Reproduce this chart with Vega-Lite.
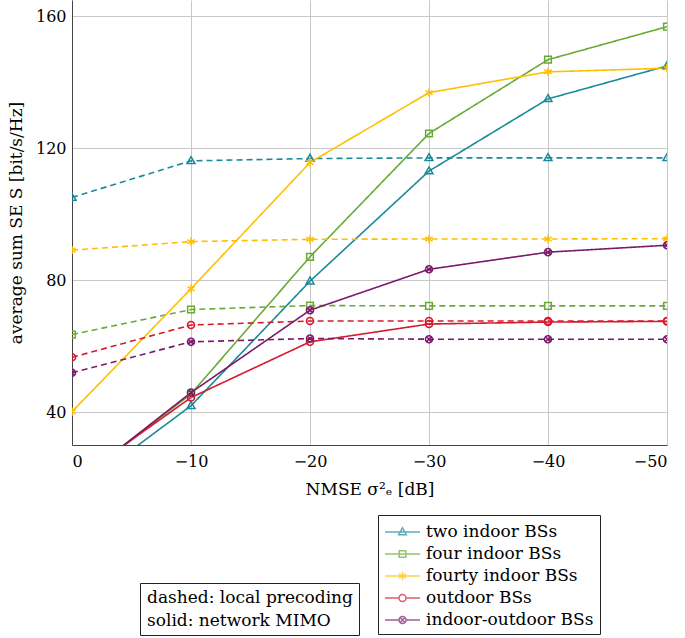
{
  "$schema": "https://vega.github.io/schema/vega-lite/v6.json",
  "width": 595,
  "height": 445,
  "autosize": "none",
  "padding": {"left": 72, "top": 0, "right": 18, "bottom": 193},
  "config": {
    "font": "DejaVu Serif",
    "view": {"stroke": null},
    "axis": {"labelFontSize": 16, "titleFontSize": 17, "labelColor": "black", "titleColor": "black", "titleFontWeight": "normal", "gridColor": "#c8c8c8", "domainColor": "#444", "tickSize": 0, "labelFont": "DejaVu Serif", "titleFont": "DejaVu Serif"},
    "legend": {"labelFont": "DejaVu Serif", "labelFontSize": 17, "labelColor": "black", "strokeColor": "#222", "fillColor": "white", "padding": 6, "labelLimit": 400}
  },
  "data": {"values": [
    {"x": 0, "v": 105.1, "series": "two indoor BSs", "scheme": "local precoding"},
    {"x": -10, "v": 116.2, "series": "two indoor BSs", "scheme": "local precoding"},
    {"x": -20, "v": 116.9, "series": "two indoor BSs", "scheme": "local precoding"},
    {"x": -30, "v": 117.1, "series": "two indoor BSs", "scheme": "local precoding"},
    {"x": -40, "v": 117.1, "series": "two indoor BSs", "scheme": "local precoding"},
    {"x": -50, "v": 117.1, "series": "two indoor BSs", "scheme": "local precoding"},
    {"x": 0, "v": 15, "series": "two indoor BSs", "scheme": "network MIMO"},
    {"x": -10, "v": 41.9, "series": "two indoor BSs", "scheme": "network MIMO"},
    {"x": -20, "v": 79.7, "series": "two indoor BSs", "scheme": "network MIMO"},
    {"x": -30, "v": 113.1, "series": "two indoor BSs", "scheme": "network MIMO"},
    {"x": -40, "v": 135, "series": "two indoor BSs", "scheme": "network MIMO"},
    {"x": -50, "v": 145, "series": "two indoor BSs", "scheme": "network MIMO"},
    {"x": 0, "v": 63.5, "series": "four indoor BSs", "scheme": "local precoding"},
    {"x": -10, "v": 71.1, "series": "four indoor BSs", "scheme": "local precoding"},
    {"x": -20, "v": 72.3, "series": "four indoor BSs", "scheme": "local precoding"},
    {"x": -30, "v": 72.2, "series": "four indoor BSs", "scheme": "local precoding"},
    {"x": -40, "v": 72.2, "series": "four indoor BSs", "scheme": "local precoding"},
    {"x": -50, "v": 72.2, "series": "four indoor BSs", "scheme": "local precoding"},
    {"x": 0, "v": 17.5, "series": "four indoor BSs", "scheme": "network MIMO"},
    {"x": -10, "v": 45.5, "series": "four indoor BSs", "scheme": "network MIMO"},
    {"x": -20, "v": 87.1, "series": "four indoor BSs", "scheme": "network MIMO"},
    {"x": -30, "v": 124.5, "series": "four indoor BSs", "scheme": "network MIMO"},
    {"x": -40, "v": 146.9, "series": "four indoor BSs", "scheme": "network MIMO"},
    {"x": -50, "v": 156.9, "series": "four indoor BSs", "scheme": "network MIMO"},
    {"x": 0, "v": 89.1, "series": "fourty indoor BSs", "scheme": "local precoding"},
    {"x": -10, "v": 91.7, "series": "fourty indoor BSs", "scheme": "local precoding"},
    {"x": -20, "v": 92.4, "series": "fourty indoor BSs", "scheme": "local precoding"},
    {"x": -30, "v": 92.5, "series": "fourty indoor BSs", "scheme": "local precoding"},
    {"x": -40, "v": 92.5, "series": "fourty indoor BSs", "scheme": "local precoding"},
    {"x": -50, "v": 92.6, "series": "fourty indoor BSs", "scheme": "local precoding"},
    {"x": 0, "v": 40.1, "series": "fourty indoor BSs", "scheme": "network MIMO"},
    {"x": -10, "v": 77.4, "series": "fourty indoor BSs", "scheme": "network MIMO"},
    {"x": -20, "v": 115.7, "series": "fourty indoor BSs", "scheme": "network MIMO"},
    {"x": -30, "v": 136.9, "series": "fourty indoor BSs", "scheme": "network MIMO"},
    {"x": -40, "v": 143.2, "series": "fourty indoor BSs", "scheme": "network MIMO"},
    {"x": -50, "v": 144.3, "series": "fourty indoor BSs", "scheme": "network MIMO"},
    {"x": 0, "v": 56.6, "series": "outdoor BSs", "scheme": "local precoding"},
    {"x": -10, "v": 66.4, "series": "outdoor BSs", "scheme": "local precoding"},
    {"x": -20, "v": 67.6, "series": "outdoor BSs", "scheme": "local precoding"},
    {"x": -30, "v": 67.6, "series": "outdoor BSs", "scheme": "local precoding"},
    {"x": -40, "v": 67.6, "series": "outdoor BSs", "scheme": "local precoding"},
    {"x": -50, "v": 67.6, "series": "outdoor BSs", "scheme": "local precoding"},
    {"x": 0, "v": 18.7, "series": "outdoor BSs", "scheme": "network MIMO"},
    {"x": -10, "v": 44.4, "series": "outdoor BSs", "scheme": "network MIMO"},
    {"x": -20, "v": 61.3, "series": "outdoor BSs", "scheme": "network MIMO"},
    {"x": -30, "v": 66.7, "series": "outdoor BSs", "scheme": "network MIMO"},
    {"x": -40, "v": 67.3, "series": "outdoor BSs", "scheme": "network MIMO"},
    {"x": -50, "v": 67.5, "series": "outdoor BSs", "scheme": "network MIMO"},
    {"x": 0, "v": 51.9, "series": "indoor-outdoor BSs", "scheme": "local precoding"},
    {"x": -10, "v": 61.3, "series": "indoor-outdoor BSs", "scheme": "local precoding"},
    {"x": -20, "v": 62.3, "series": "indoor-outdoor BSs", "scheme": "local precoding"},
    {"x": -30, "v": 62.1, "series": "indoor-outdoor BSs", "scheme": "local precoding"},
    {"x": -40, "v": 62.1, "series": "indoor-outdoor BSs", "scheme": "local precoding"},
    {"x": -50, "v": 62.1, "series": "indoor-outdoor BSs", "scheme": "local precoding"},
    {"x": 0, "v": 17.7, "series": "indoor-outdoor BSs", "scheme": "network MIMO"},
    {"x": -10, "v": 45.9, "series": "indoor-outdoor BSs", "scheme": "network MIMO"},
    {"x": -20, "v": 70.9, "series": "indoor-outdoor BSs", "scheme": "network MIMO"},
    {"x": -30, "v": 83.3, "series": "indoor-outdoor BSs", "scheme": "network MIMO"},
    {"x": -40, "v": 88.5, "series": "indoor-outdoor BSs", "scheme": "network MIMO"},
    {"x": -50, "v": 90.6, "series": "indoor-outdoor BSs", "scheme": "network MIMO"}
  ]},
  "encoding": {
    "x": {"field": "x", "type": "quantitative", "scale": {"domain": [0, -50], "nice": false},
      "axis": {"values": [0, -10, -20, -30, -40, -50], "title": "NMSE σ²ₑ [dB]", "labelPadding": 8, "titlePadding": 12}},
    "y": {"field": "v", "type": "quantitative", "scale": {"domain": [30, 165], "nice": false, "zero": false},
      "axis": {"values": [40, 80, 120, 160], "title": "average sum SE S [bit/s/Hz]", "labelPadding": 6, "titlePadding": 10}},
    "color": {"field": "series", "type": "nominal",
      "scale": {"domain": ["two indoor BSs", "four indoor BSs", "fourty indoor BSs", "outdoor BSs", "indoor-outdoor BSs"],
        "range": ["#1a8a9a", "#6aaa34", "#ffbf00", "#d7192d", "#7b1a6b"]}}
  },
  "layer": [
    {
      "mark": {"type": "line", "clip": true, "strokeWidth": 1.6},
      "encoding": {
        "color": {"field": "series", "type": "nominal", "legend": null},
        "strokeDash": {"field": "scheme", "type": "nominal",
          "scale": {"domain": ["local precoding", "network MIMO"], "range": [[6, 4], [1, 0]]},
          "legend": {"orient": "none", "legendX": 68, "legendY": 583, "title": null, "symbolSize": 0, "symbolOpacity": 0, "symbolStrokeWidth": 0, "labelOffset": -16, "rowPadding": 5,
            "labelExpr": "datum.label == 'local precoding' ? 'dashed: local precoding' : 'solid: network MIMO'"}}
      }
    },
    {
      "mark": {"type": "point", "clip": true, "filled": false, "size": 70, "strokeWidth": 1.5, "opacity": 1},
      "encoding": {
        "color": {"field": "series", "type": "nominal", "legend": null},
        "shape": {"field": "series", "type": "nominal", "legend": null,
          "scale": {"domain": ["two indoor BSs", "four indoor BSs", "fourty indoor BSs", "outdoor BSs", "indoor-outdoor BSs"],
            "range": [
              "M0,-1L0.95,0.65L-0.95,0.65Z",
              "M-0.8,-0.8H0.8V0.8H-0.8Z",
              "M0,-1V1M-0.87,-0.5L0.87,0.5M-0.87,0.5L0.87,-0.5",
              "M-0.85,0A0.85,0.85 0 1,0 0.85,0A0.85,0.85 0 1,0 -0.85,0Z",
              "M-0.85,0A0.85,0.85 0 1,0 0.85,0A0.85,0.85 0 1,0 -0.85,0ZM-0.6,-0.6L0.6,0.6M-0.6,0.6L0.6,-0.6"
            ]}}
      }
    },
    {
      "mark": {"type": "point", "clip": true, "filled": false, "size": 0, "strokeWidth": 1.5},
      "encoding": {
        "color": {"field": "series", "type": "nominal",
          "legend": {"orient": "none", "legendX": 306, "legendY": 515, "title": null, "symbolSize": 400, "labelOffset": 20, "rowPadding": 3, "symbolStrokeWidth": 1.5}},
        "shape": {"field": "series", "type": "nominal",
          "legend": {"orient": "none", "legendX": 306, "legendY": 515, "title": null, "symbolSize": 400, "labelOffset": 20, "rowPadding": 3, "symbolStrokeWidth": 1.5},
          "scale": {"domain": ["two indoor BSs", "four indoor BSs", "fourty indoor BSs", "outdoor BSs", "indoor-outdoor BSs"],
            "range": [
              "M-1,0H2.5M0.75,-0.42L1.13,0.27L0.37,0.27Z",
              "M-1,0H2.5M0.42,-0.33H1.08V0.33H0.42Z",
              "M-1,0H2.5M0.75,-0.42V0.42M0.39,-0.21L1.11,0.21M0.39,0.21L1.11,-0.21",
              "M-1,0H0.4M1.1,0H2.5M0.4,0A0.35,0.35 0 1,0 1.1,0A0.35,0.35 0 1,0 0.4,0Z",
              "M-1,0H0.4M1.1,0H2.5M0.4,0A0.35,0.35 0 1,0 1.1,0A0.35,0.35 0 1,0 0.4,0ZM0.5,-0.25L1,0.25M0.5,0.25L1,-0.25"
            ]}}
      }
    }
  ],
  "resolve": {"scale": {"shape": "independent"}, "legend": {"color": "independent", "shape": "independent"}}
}
